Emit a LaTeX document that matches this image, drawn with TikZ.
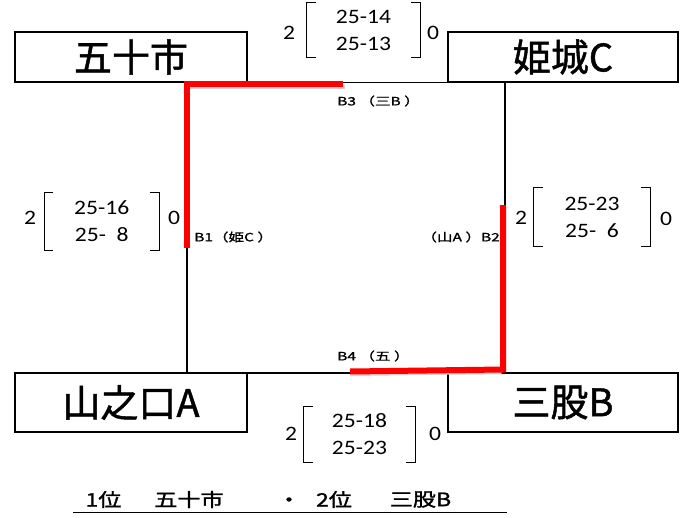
\documentclass[tikz,border=0pt]{standalone}
\usepackage{fontspec}
\newfontfamily\jpfont{Noto Sans CJK JP}
\newfontfamily\jpheavy[FakeBold=1.2]{Noto Sans CJK JP}
\newfontfamily\numfont{Carlito}
\newcommand{\widen}[2]{\scalebox{#1}[1]{#2}}
\begin{document}
\begin{tikzpicture}[x=1pt,y=-1pt,
  team/.style={draw, line width=2pt, inner sep=0, minimum width=232pt,
    font=\jpheavy\fontsize{38}{44}\selectfont},
  conn/.style={line width=1.8pt},
  redline/.style={draw=red, line width=6pt, line join=miter, line cap=butt},
  redshadow/.style={draw=black!18, line width=4pt, line join=miter},
  scorebox/.style={inner sep=0, align=center,
    font=\numfont\fontsize{20.5}{27}\selectfont},
  setnum/.style={inner sep=0, font=\numfont\fontsize{20.5}{24}\selectfont},
  brk/.style={line width=1.3pt},
  lab/.style={inner sep=0, font=\jpheavy\fontsize{11.5}{13}\selectfont},
  rank/.style={inner sep=0, font=\jpheavy\fontsize{18.5}{20}\selectfont}
]
\useasboundingbox (0,0) rectangle (688,517);

% teams
\node[team, minimum height=50pt] (five) at (131,57) {五十市};
\node[team, minimum height=50pt, minimum width=230pt] (hime) at (563,57) {姫城C};
\node[team, minimum height=59pt] (yama) at (131,402.5) {山之口A};
\node[team, minimum height=59pt, minimum width=230pt] (mata) at (563,402.5) {三股B};

% bracket frame
\coordinate (cTL) at (187,82.5);
\coordinate (cTR) at (505,82.5);
\coordinate (cBR) at (505,373);
\coordinate (cBL) at (187,373);
\draw[conn] (cTL) -- (cTR) -- (cBR) -- (cBL) -- cycle;

% red winner lines
\coordinate (r1a) at (187,248);
\coordinate (r1b) at (187,84);
\coordinate (r1c) at (343,84);
\coordinate (r2a) at (503,205);
\coordinate (r2b) at (503,369.5);
\coordinate (r2c) at (350,371.5);
\draw[redshadow] ([shift={(1.5,2.5)}]r1b) -- ([shift={(1.5,2.5)}]r1c);
\draw[redshadow] ([shift={(-1.5,2.5)}]r2b) -- ([shift={(1.5,2.5)}]r2c);
\draw[redline] (r1a) -- (r1b) -- (r1c);
\draw[redline] (r2a) -- (r2b) -- (r2c);

% scores
\node[scorebox, minimum width=113pt, minimum height=54pt] (sT) at (363.5,30)
  {\widen{1.15}{25-14}\\\widen{1.15}{25-13}};
\node[scorebox, minimum width=114.5pt, minimum height=57pt] (sL) at (101.75,221.5)
  {\widen{1.15}{25-16}\\\widen{1.15}{25-\ \ 8}};
\node[scorebox, minimum width=116pt, minimum height=58pt] (sR) at (592,217)
  {\widen{1.15}{25-23}\\\widen{1.15}{25-\ \ 6}};
\node[scorebox, minimum width=111pt, minimum height=55pt] (sB) at (359.5,434.5)
  {\widen{1.15}{25-18}\\\widen{1.15}{25-23}};
\foreach \s in {sT,sL,sR,sB}{
  \draw[brk] ([xshift=9pt]\s.north west) -- (\s.north west) -- (\s.south west) -- ([xshift=9pt]\s.south west);
  \draw[brk] ([xshift=-9pt]\s.north east) -- (\s.north east) -- (\s.south east) -- ([xshift=-9pt]\s.south east);
}
\node[setnum] (tT2) at (289,33) {\widen{1.15}{2}};
\node[setnum] (tT0) at (433,33) {\widen{1.15}{0}};
\node[setnum] (tL2) at (30,218) {\widen{1.15}{2}};
\node[setnum] (tL0) at (174,218) {\widen{1.15}{0}};
\node[setnum] (tR2) at (521,218) {\widen{1.15}{2}};
\node[setnum] (tR0) at (666,219) {\widen{1.15}{0}};
\node[setnum] (tB2) at (291,434) {\widen{1.15}{2}};
\node[setnum] (tB0) at (435,434) {\widen{1.15}{0}};

% match labels
\node[lab, anchor=west] (lB3) at (337,101) {\widen{1.35}{B3 （三B ）}};
\node[lab, anchor=west] (lB1) at (194,237) {\widen{1.35}{B1（姫C ）}};
\node[lab, anchor=east] (lB2) at (500,237) {\widen{1.35}{（山A ）B2}};
\node[lab, anchor=west] (lB4) at (337,356) {\widen{1.35}{B4 （五 ）}};

% ranking
\node[rank] (k1) at (103.5,499.5) {\widen{1.25}{1位}};
\node[rank] (k2) at (189,499.5) {\widen{1.25}{五十市}};
\node[rank] (k3) at (289,502) {\widen{1.25}{・}};
\node[rank] (k4) at (334,499.5) {\widen{1.25}{2位}};
\node[rank] (k5) at (420.5,499.5) {\widen{1.25}{三股B}};
\coordinate (uL) at (73,512.5);
\coordinate (uR) at (507,512.5);
\draw[conn] (uL) -- (uR);
\end{tikzpicture}
\end{document}
